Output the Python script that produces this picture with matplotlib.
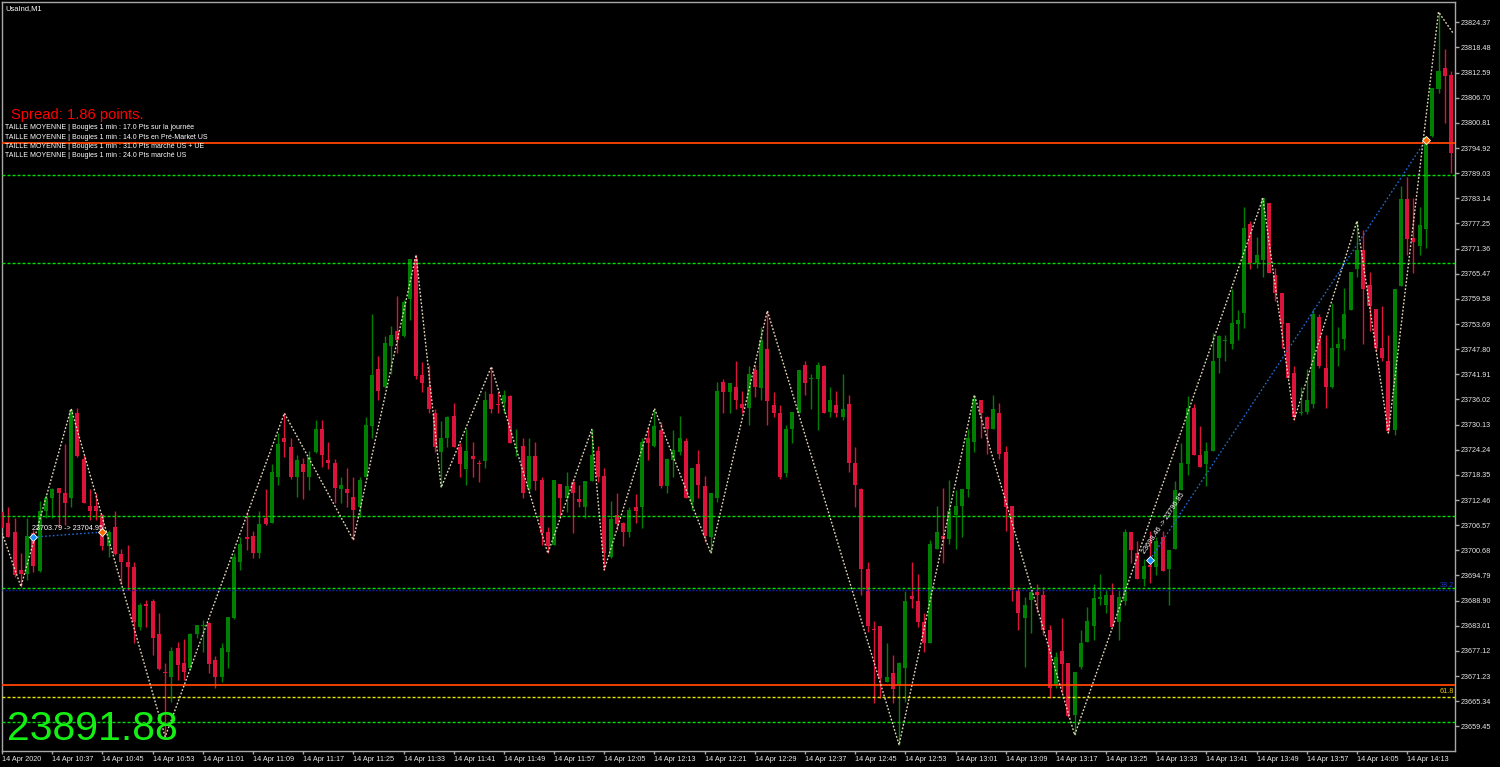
import matplotlib.pyplot as plt
import numpy as np

plt.rcParams['font.family'] = ['Liberation Sans', 'DejaVu Sans']

# UsaInd M1 candles, 14 Apr 2020 10:29 -> 14:20 (one per minute)
opens = [
    23709.7, 23707.0, 23704.9, 23696.1, 23695.1, 23704.8, 23695.8, 23710.0, 23713.0, 23715.2,
    23714.0, 23712.9, 23732.9, 23722.0, 23711.1, 23711.1, 23709.0, 23701.7, 23706.2, 23699.8,
    23698.0, 23696.7, 23682.8, 23688.0, 23688.9, 23681.1, 23672.1, 23671.1, 23677.9, 23674.2,
    23673.0, 23681.0, 23682.9, 23683.6, 23675.0, 23671.1, 23676.9, 23684.9, 23698.0, 23703.9,
    23704.0, 23700.0, 23708.2, 23707.0, 23717.9, 23726.9, 23725.0, 23717.8, 23720.9, 23717.9,
    23723.8, 23729.0, 23721.8, 23721.1, 23715.0, 23715.0, 23713.1, 23710.9, 23717.9, 23729.9,
    23743.1, 23739.0, 23748.5, 23752.1, 23751.0, 23759.5, 23768.9, 23741.7, 23739.0, 23732.9,
    23723.6, 23727.1, 23732.2, 23724.8, 23719.7, 23722.8, 23721.2, 23721.7, 23737.2, 23735.0,
    23735.1, 23736.8, 23724.7, 23725.1, 23715.0, 23722.8, 23717.2, 23705.0, 23701.9, 23716.2,
    23712.9, 23716.8, 23712.7, 23710.9, 23717.0, 23723.9, 23718.1, 23699.0, 23708.9, 23707.0,
    23704.9, 23710.9, 23710.9, 23727.1, 23725.1, 23728.9, 23715.7, 23721.8, 23723.8, 23726.3,
    23712.1, 23720.8, 23715.8, 23703.9, 23713.0, 23740.0, 23737.8, 23738.9, 23735.0, 23734.1,
    23742.9, 23738.8, 23747.8, 23734.7, 23732.9, 23718.9, 23729.0, 23732.8, 23744.1, 23740.8,
    23740.7, 23743.9, 23733.2, 23734.7, 23731.8, 23734.9, 23721.1, 23715.0, 23696.2, 23682.2,
    23683.0, 23669.9, 23671.9, 23669.1, 23673.0, 23690.0, 23688.8, 23683.8, 23679.0, 23700.9,
    23704.1, 23703.3, 23708.9, 23711.1, 23715.0, 23726.1, 23736.0, 23732.0, 23729.0, 23732.8,
    23723.7, 23711.1, 23691.1, 23684.9, 23689.0, 23691.0, 23690.2, 23682.0, 23669.1, 23677.1,
    23674.2, 23662.1, 23673.3, 23679.1, 23683.0, 23689.3, 23687.8, 23690.1, 23683.9, 23688.9,
    23705.0, 23700.1, 23694.0, 23697.2, 23696.8, 23703.7, 23696.2, 23700.9, 23714.9, 23720.9,
    23734.0, 23722.9, 23720.9, 23723.9, 23745.8, 23749.6, 23748.9, 23753.6, 23756.2, 23777.1,
    23767.9, 23768.7, 23782.0, 23765.1, 23760.9, 23753.9, 23742.2, 23732.8, 23733.0, 23734.9,
    23755.3, 23743.5, 23739.0, 23748.0, 23750.2, 23757.0, 23766.6, 23771.1, 23762.9, 23757.3,
    23748.1, 23745.0, 23728.9, 23762.7, 23782.9, 23773.8, 23771.9, 23776.0, 23797.7, 23808.7,
    23813.7, 23812.0,
]
highs = [
    23710.9, 23710.9, 23708.2, 23700.0, 23708.2, 23705.4, 23712.2, 23713.6, 23715.2, 23715.2,
    23725.7, 23733.9, 23734.1, 23723.0, 23715.0, 23714.0, 23709.3, 23705.4, 23710.0, 23701.1,
    23701.9, 23698.0, 23688.3, 23689.0, 23689.2, 23685.9, 23674.2, 23678.1, 23679.1, 23679.9,
    23681.4, 23683.2, 23684.4, 23684.0, 23675.9, 23679.0, 23685.1, 23700.0, 23703.9, 23709.7,
    23705.1, 23710.0, 23715.0, 23720.9, 23728.1, 23732.8, 23726.9, 23723.0, 23722.2, 23724.0,
    23731.2, 23731.2, 23726.1, 23722.0, 23717.9, 23719.9, 23717.9, 23717.8, 23732.0, 23756.0,
    23746.2, 23750.9, 23753.2, 23760.2, 23759.3, 23768.9, 23769.9, 23744.9, 23744.1, 23733.9,
    23731.0, 23732.1, 23735.1, 23725.9, 23729.0, 23726.1, 23721.8, 23738.1, 23743.7, 23737.8,
    23738.2, 23737.1, 23729.0, 23726.9, 23727.1, 23726.1, 23717.8, 23706.2, 23717.2, 23716.2,
    23719.0, 23717.3, 23716.0, 23716.9, 23729.0, 23725.1, 23719.9, 23712.2, 23714.0, 23707.4,
    23710.9, 23713.9, 23726.9, 23729.3, 23733.9, 23730.8, 23722.0, 23728.9, 23732.1, 23727.1,
    23719.9, 23724.2, 23718.2, 23714.0, 23740.0, 23740.7, 23739.8, 23745.0, 23738.1, 23743.9,
    23744.1, 23752.9, 23756.8, 23737.7, 23734.7, 23730.0, 23733.0, 23742.9, 23745.0, 23741.9,
    23744.9, 23744.1, 23738.9, 23738.1, 23742.1, 23737.1, 23724.8, 23715.2, 23698.0, 23684.1,
    23683.0, 23678.9, 23676.2, 23674.6, 23691.2, 23697.9, 23695.1, 23686.1, 23703.1, 23711.1,
    23715.2, 23717.2, 23714.8, 23715.0, 23729.0, 23737.1, 23736.0, 23732.1, 23737.1, 23735.1,
    23725.1, 23711.1, 23692.2, 23689.7, 23691.4, 23692.9, 23692.0, 23683.2, 23676.9, 23684.9,
    23674.2, 23672.1, 23681.9, 23687.3, 23692.9, 23695.1, 23691.7, 23693.1, 23691.5, 23705.7,
    23705.0, 23702.9, 23698.7, 23705.2, 23703.8, 23705.2, 23700.7, 23717.0, 23725.9, 23736.8,
    23734.9, 23729.8, 23726.1, 23751.7, 23751.1, 23751.1, 23761.8, 23757.0, 23781.1, 23777.8,
    23774.1, 23783.1, 23782.0, 23766.8, 23760.9, 23753.9, 23743.9, 23739.0, 23743.1, 23757.1,
    23756.0, 23751.1, 23758.6, 23753.0, 23762.1, 23765.9, 23777.8, 23775.8, 23765.9, 23757.3,
    23757.9, 23751.1, 23762.0, 23786.1, 23788.1, 23783.1, 23781.1, 23797.5, 23809.1, 23826.8,
    23818.1, 23813.0,
]
lows = [
    23704.7, 23703.9, 23694.5, 23692.2, 23693.7, 23695.7, 23695.7, 23708.2, 23708.2, 23706.2,
    23706.6, 23710.9, 23722.6, 23711.7, 23707.8, 23707.8, 23700.8, 23699.2, 23699.6, 23692.9,
    23691.4, 23678.9, 23682.0, 23682.8, 23676.2, 23672.6, 23657.0, 23665.2, 23670.3, 23670.3,
    23672.6, 23680.1, 23676.9, 23671.9, 23668.4, 23669.8, 23673.0, 23684.7, 23696.1, 23700.8,
    23698.8, 23698.8, 23706.6, 23707.0, 23716.0, 23722.6, 23717.5, 23713.1, 23712.6, 23714.8,
    23723.4, 23720.3, 23719.7, 23711.7, 23711.7, 23710.9, 23703.1, 23708.6, 23717.9, 23726.9,
    23736.0, 23738.6, 23742.1, 23746.8, 23750.7, 23754.6, 23740.7, 23737.8, 23732.8, 23723.8,
    23715.4, 23725.0, 23724.8, 23717.8, 23716.1, 23717.8, 23716.8, 23720.0, 23732.9, 23732.9,
    23732.8, 23725.9, 23722.8, 23712.9, 23714.4, 23714.8, 23701.9, 23700.0, 23701.9, 23708.6,
    23709.7, 23704.8, 23710.9, 23708.2, 23717.0, 23716.8, 23696.1, 23698.8, 23705.4, 23701.8,
    23703.9, 23707.0, 23705.8, 23721.8, 23724.8, 23715.2, 23714.0, 23717.9, 23723.0, 23713.0,
    23710.1, 23712.9, 23702.7, 23700.0, 23712.1, 23732.9, 23732.9, 23733.9, 23732.8, 23730.0,
    23736.7, 23735.9, 23730.0, 23731.8, 23717.5, 23717.8, 23725.9, 23732.8, 23737.1, 23733.7,
    23728.9, 23732.8, 23731.8, 23732.0, 23731.2, 23719.0, 23710.9, 23690.2, 23681.6, 23664.8,
    23666.0, 23669.9, 23664.8, 23655.1, 23665.2, 23687.1, 23682.8, 23676.9, 23679.0, 23700.9,
    23697.8, 23702.2, 23700.9, 23703.9, 23713.1, 23723.8, 23726.9, 23723.2, 23729.0, 23722.0,
    23705.2, 23688.8, 23682.0, 23673.4, 23681.2, 23686.3, 23680.8, 23666.0, 23668.4, 23667.2,
    23661.7, 23657.4, 23672.8, 23679.1, 23679.6, 23687.8, 23685.9, 23682.8, 23679.6, 23687.8,
    23697.6, 23694.0, 23692.3, 23693.1, 23694.8, 23695.9, 23687.8, 23700.9, 23714.9, 23718.3,
    23722.9, 23720.1, 23715.8, 23723.9, 23742.2, 23745.0, 23747.8, 23750.0, 23752.8, 23766.6,
    23766.8, 23764.6, 23765.7, 23759.0, 23748.1, 23741.1, 23731.3, 23732.3, 23732.6, 23734.0,
    23743.5, 23734.0, 23738.6, 23743.9, 23747.5, 23757.0, 23764.8, 23748.9, 23752.0, 23747.4,
    23745.0, 23728.2, 23727.8, 23762.7, 23769.9, 23765.7, 23769.9, 23771.5, 23797.5, 23807.9,
    23800.8, 23789.1,
]
closes = [
    23705.8, 23703.9, 23694.9, 23695.1, 23704.1, 23697.1, 23710.0, 23712.9, 23715.0, 23714.0,
    23711.8, 23733.5, 23722.8, 23711.7, 23710.0, 23710.0, 23701.8, 23705.0, 23699.8, 23698.0,
    23696.7, 23684.0, 23687.9, 23687.7, 23680.1, 23672.9, 23671.9, 23677.1, 23673.8, 23672.1,
    23681.1, 23683.2, 23683.1, 23674.0, 23671.1, 23677.7, 23685.1, 23699.2, 23702.2, 23703.3,
    23700.0, 23706.9, 23706.9, 23719.0, 23725.7, 23726.1, 23717.8, 23721.8, 23719.1, 23722.6,
    23729.0, 23723.0, 23721.2, 23715.2, 23716.0, 23714.0, 23710.1, 23717.2, 23730.0, 23741.7,
    23738.0, 23749.2, 23751.1, 23749.9, 23758.9, 23768.9, 23741.5, 23739.8, 23733.9, 23725.0,
    23727.1, 23732.0, 23725.0, 23720.9, 23723.9, 23722.0, 23720.9, 23735.9, 23733.8, 23734.7,
    23737.1, 23725.9, 23725.0, 23714.0, 23722.8, 23717.0, 23704.8, 23701.7, 23717.2, 23712.9,
    23715.8, 23714.0, 23711.9, 23716.9, 23723.0, 23717.8, 23700.0, 23708.0, 23706.9, 23704.9,
    23710.1, 23709.9, 23726.0, 23725.9, 23729.8, 23715.7, 23722.0, 23724.2, 23726.9, 23713.0,
    23719.9, 23716.0, 23704.0, 23714.0, 23738.0, 23737.8, 23739.8, 23736.0, 23734.1, 23741.9,
    23739.0, 23749.9, 23735.7, 23732.8, 23717.8, 23729.0, 23733.0, 23742.9, 23739.8, 23741.1,
    23744.1, 23732.8, 23736.0, 23732.9, 23733.9, 23721.1, 23716.0, 23696.2, 23683.0, 23681.9,
    23670.7, 23670.9, 23668.1, 23674.2, 23688.8, 23689.2, 23684.0, 23679.0, 23702.2, 23704.9,
    23703.3, 23709.9, 23711.1, 23715.0, 23726.9, 23736.1, 23732.9, 23729.0, 23733.7, 23723.2,
    23710.9, 23691.4, 23685.9, 23687.9, 23691.0, 23690.2, 23681.9, 23668.4, 23675.8, 23674.0,
    23661.9, 23672.1, 23678.9, 23684.1, 23689.5, 23689.7, 23690.1, 23682.8, 23689.8, 23705.0,
    23700.7, 23694.0, 23697.0, 23696.8, 23702.9, 23695.9, 23700.7, 23714.9, 23721.1, 23734.0,
    23722.9, 23720.1, 23723.9, 23745.0, 23750.9, 23750.0, 23753.9, 23754.7, 23776.1, 23767.9,
    23769.9, 23783.1, 23765.7, 23760.9, 23753.7, 23741.1, 23731.9, 23733.2, 23736.0, 23756.0,
    23743.9, 23739.0, 23748.0, 23749.1, 23756.0, 23765.9, 23771.1, 23761.8, 23757.9, 23748.1,
    23745.8, 23728.7, 23762.0, 23782.9, 23773.5, 23772.8, 23776.9, 23797.5, 23809.0, 23813.0,
    23811.8, 23793.8,
]

time_ticks = [0, 8, 16, 24, 32, 40, 48, 56, 64, 72, 80, 88, 96, 104, 112,
              120, 128, 136, 144, 152, 160, 168, 176, 184, 192, 200, 208, 216, 224]
time_labels = ['14 Apr 2020', '14 Apr 10:37', '14 Apr 10:45', '14 Apr 10:53', '14 Apr 11:01',
               '14 Apr 11:09', '14 Apr 11:17', '14 Apr 11:25', '14 Apr 11:33', '14 Apr 11:41',
               '14 Apr 11:49', '14 Apr 11:57', '14 Apr 12:05', '14 Apr 12:13', '14 Apr 12:21',
               '14 Apr 12:29', '14 Apr 12:37', '14 Apr 12:45', '14 Apr 12:53', '14 Apr 13:01',
               '14 Apr 13:09', '14 Apr 13:17', '14 Apr 13:25', '14 Apr 13:33', '14 Apr 13:41',
               '14 Apr 13:49', '14 Apr 13:57', '14 Apr 14:05', '14 Apr 14:13']
price_ticks = [23659.45, 23665.34, 23671.23, 23677.12, 23683.01, 23688.90, 23694.79,
               23700.68, 23706.57, 23712.46, 23718.35, 23724.24, 23730.13, 23736.02,
               23741.91, 23747.80, 23753.69, 23759.58, 23765.47, 23771.36, 23777.25,
               23783.14, 23789.03, 23794.92, 23800.81, 23806.70, 23812.59, 23818.48, 23824.37]

# zigzag pivots (bar index, price)
zz_idx = [0, 3, 11, 26, 45, 56, 66, 70, 78, 87, 94, 96, 104, 113, 122, 143, 155,
          171, 201, 206, 216, 221, 229, 231.3]
zz_price = [23704.7, 23692.2, 23733.9, 23657.0, 23732.8, 23703.1, 23769.9, 23715.4,
            23743.7, 23700.0, 23729.0, 23696.1, 23733.9, 23700.0, 23756.8, 23655.1,
            23737.1, 23657.4, 23783.1, 23731.3, 23777.8, 23728.2, 23826.8, 23821.9]

green_levels = [23788.7, 23767.9, 23708.65, 23691.9, 23660.4]
orange_levels = [23796.2, 23669.1]
fib_382 = 23691.3
fib_618 = 23666.25

trade1_idx = [5, 16]
trade1_price = [23703.79, 23704.95]
trade2_idx = [183, 227]
trade2_price = [23698.46, 23796.85]

W, H = 1500, 767
fig = plt.figure(figsize=(W / 100, H / 100), dpi=100, facecolor='black')
ax = fig.add_axes([2 / W, 16 / H, 1453 / W, 749 / H])
ax.set_facecolor('black')

o = np.array(opens)
h = np.array(highs)
l = np.array(lows)
c = np.array(closes)
x = np.arange(len(o))
up = c >= o
cols = np.where(up, '#008000', '#dc143c')

ax.vlines(x, l, h, colors=cols, lw=1, zorder=2)
body = np.maximum(np.abs(c - o), 0.3)
ax.bar(x, body, bottom=np.minimum(o, c), width=0.64, color=cols, lw=0, zorder=3)

# horizontal levels
for g in green_levels:
    ax.axhline(g, color='#00e000', lw=1, ls=(0, (2.2, 1.4)), zorder=4)
for r in orange_levels:
    ax.axhline(r, color='#ff4500', lw=1.3, zorder=4)
ax.axhline(fib_382, color='#1020b0', lw=1, ls=(0, (1.2, 1.2)), zorder=4)
ax.axhline(fib_618, color='#e6e600', lw=1, ls=(0, (2.2, 1.4)), zorder=4)
ax.text(0.999, fib_382 + 0.3, '38.2', color='#2040d0', fontsize=5.2, ha='right', va='bottom',
        transform=ax.get_yaxis_transform())
ax.text(0.999, fib_618 + 0.5, '61.8', color='#e6c200', fontsize=5.2, ha='right', va='bottom',
        transform=ax.get_yaxis_transform())

# zigzag
ax.plot(zz_idx, zz_price, color='#e2d6ba', lw=1, ls=(0, (1.3, 1.3)), zorder=5)

# trades
for ti, tp in [(trade1_idx, trade1_price), (trade2_idx, trade2_price)]:
    ax.plot(ti, tp, color='#1e6ad0', lw=1, ls=(0, (1.2, 1.6)), zorder=5)
    ax.plot(ti[0], tp[0], marker='D', ms=4, mfc='#1e90ff', mec='white', mew=0.6, zorder=6)
    ax.plot(ti[1], tp[1], marker='D', ms=4, mfc='#ff6a00', mec='white', mew=0.6, zorder=6)
ax.text(4.7, 23705.0, '23703.79 -> 23704.95', color='white', fontsize=5.2,
        ha='left', va='bottom', zorder=7)
ax.text(182.4, 23699.6, '23698.46 -> 23796.85', color='white', fontsize=5.2,
        ha='left', va='bottom', rotation=56.5, rotation_mode='anchor', zorder=7)

ax.set_xlim(-0.016, 231.63)
ax.set_ylim(23653.67, 23829.13)

for s in ax.spines.values():
    s.set_color('#a8a8a8')
    s.set_linewidth(1)

ax.yaxis.tick_right()
ax.set_yticks(price_ticks)
ax.set_yticklabels(['%.2f' % p for p in price_ticks])
ax.tick_params(axis='y', colors='#a8a8a8', labelcolor='#e8e8e8', length=3, width=1,
               pad=1, labelsize=5.2)
ax.set_xticks(time_ticks)
ax.set_xticklabels(time_labels)
ax.tick_params(axis='x', colors='#a8a8a8', labelcolor='#e8e8e8', length=2, width=1,
               pad=1.5, labelsize=5.2)
for lbl in ax.get_xticklabels():
    lbl.set_ha('left')

# overlay texts
def fx(px):
    return px / W

def fy(py):
    return 1 - py / H

fig.text(fx(5), fy(10), 'UsaInd,M1', color='white', fontsize=5.4, va='baseline')
fig.text(fx(11), fy(118.5), 'Spread: 1.86 points.', color='#ff0000', fontsize=10.6, va='baseline')
info_lines = ['TAILLE MOYENNE | Bougies 1 min : 17.0 Pts sur la journée',
              'TAILLE MOYENNE | Bougies 1 min : 14.0 Pts en Pré-Market US',
              'TAILLE MOYENNE | Bougies 1 min : 31.0 Pts marché US + UE',
              'TAILLE MOYENNE | Bougies 1 min : 24.0 Pts marché US']
for k, t in enumerate(info_lines):
    fig.text(fx(5), fy(129.3 + 9.3 * k), t, color='white', fontsize=5.0, va='baseline')
fig.text(fx(7), fy(740), '23891.88', color='#14f014', fontsize=29.5, va='baseline', zorder=10)

fig.savefig('out.png', dpi=100, facecolor='black')
